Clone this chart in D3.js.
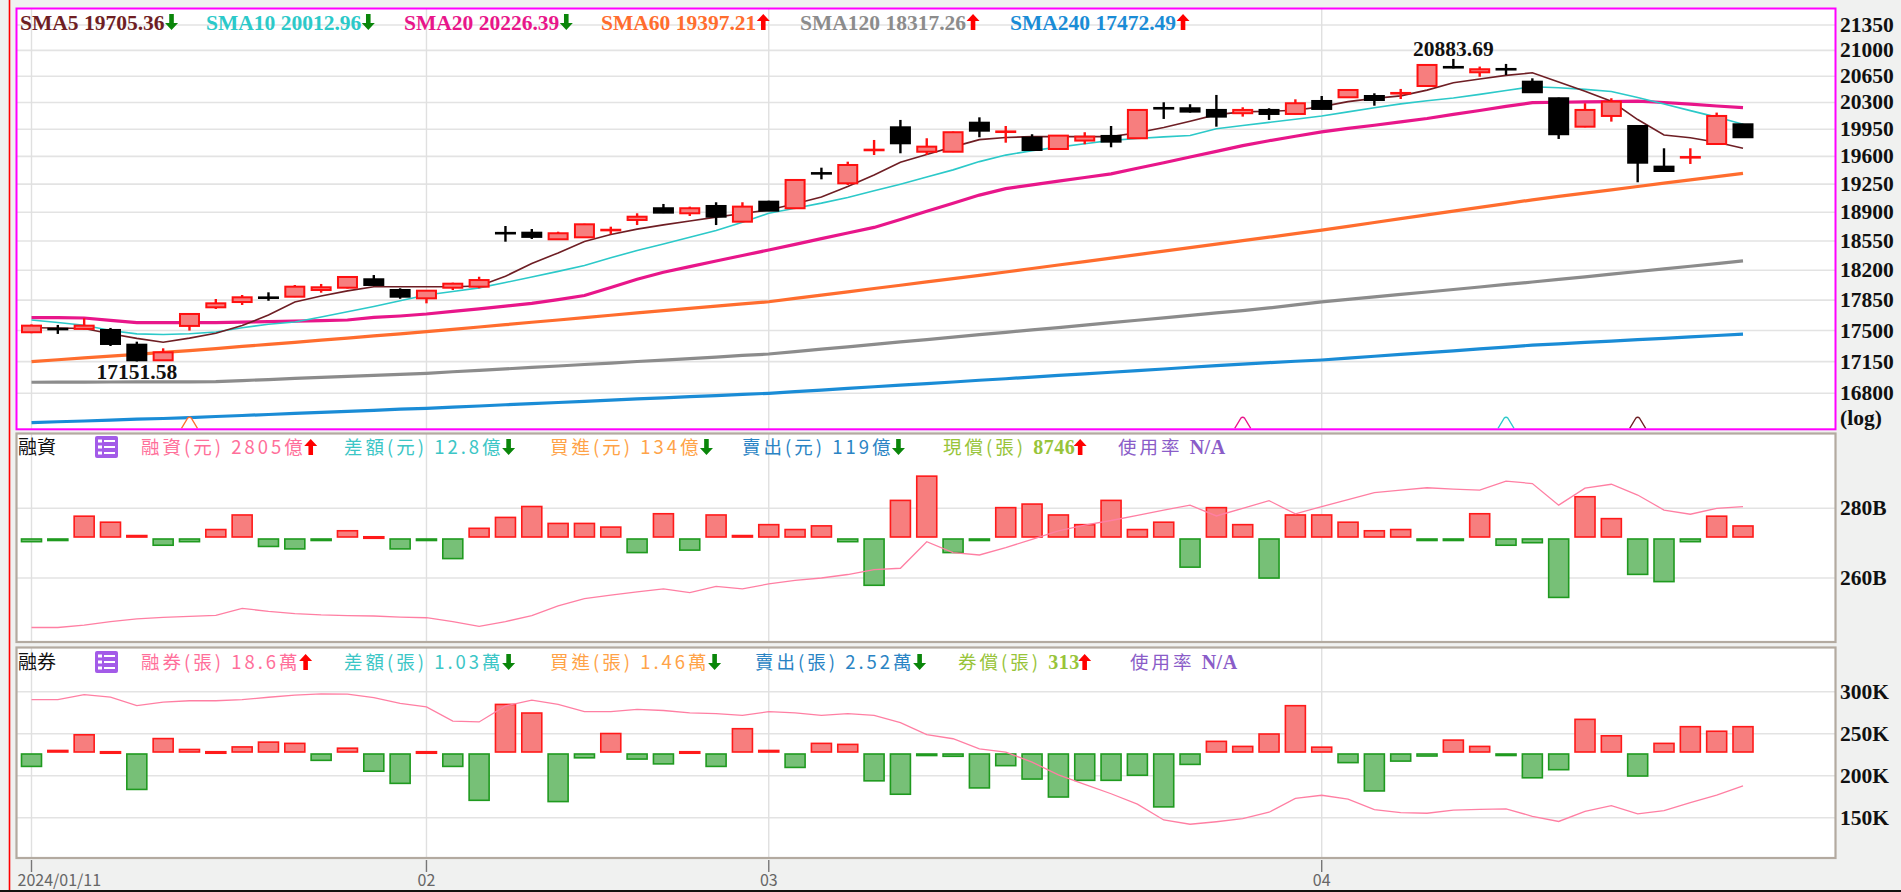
<!DOCTYPE html>
<html><head><meta charset="utf-8">
<script src="https://cdn.jsdelivr.net/npm/d3@7/dist/d3.min.js"></script>
<style>
html,body{margin:0;padding:0;background:#f0f1f0;overflow:hidden;}
svg{display:block;}
</style></head>
<body>
<svg id="chart" width="1901" height="892"></svg>
<script>
// ---------------- DATA ----------------
const dates = ["01/11","01/12","01/15","01/16","01/17","01/18","01/19","01/22","01/23","01/24","01/25","01/26","01/29","01/30","01/31",
"02/01","02/02","02/05","02/15","02/16","02/19","02/20","02/21","02/22","02/23","02/26","02/27","02/29",
"03/01","03/04","03/05","03/06","03/07","03/08","03/11","03/12","03/13","03/14","03/15","03/18","03/19","03/20","03/21","03/22","03/25","03/26","03/27","03/28","03/29",
"04/01","04/02","04/03","04/08","04/09","04/10","04/11","04/12","04/15","04/16","04/17","04/18","04/19","04/22","04/23","04/24","04/25"];

const open  = [17481,17525,17519,17507,17340,17165,17553,17767,17828,17885,17890,17968,17995,18094,17968,17871,17995,18007,18650,18651,18571,18595,18676,18806,18950,18888,18978,18785,19031,18950,19390,19260,19675,19975,19660,19660,20035,19910,19841,19695,19803,19863,19833,20230,20224,20202,20159,20202,20149,20320,20369,20386,20415,20519,20780,20703,20750,20577,20356,19983,20123,19992,19470,19580,19759,20014];
const high  = [17570,17564,17641,17530,17374,17299,17700,17863,17910,17941,18027,18039,18130,18144,17988,17965,18054,18124,18732,18696,18663,18760,18724,18888,19003,18970,19024,19024,19043,19310,19457,19533,19811,20071,19833,19920,20105,19992,19885,19875,19911,19992,20210,20303,20277,20400,20237,20224,20342,20386,20475,20422,20480,20810,20883.69,20780,20816,20622,20365,20290,20356,20000,19704,19704,20167,20020];
const low   = [17470,17462,17510,17325,17151.58,17160,17500,17748,17794,17843,17885,17937,17985,18020,17866,17813,17968,17988,18542,18575,18565,18590,18632,18744,18890,18855,18744,18780,18915,18940,19310,19239,19618,19640,19618,19655,19846,19776,19675,19690,19756,19717,19825,20084,20167,19983,20114,20071,20140,20210,20360,20258,20346,20510,20755,20643,20666,20430,19824,19975,20049,19273,19405,19504,19755,19840];
const close = [17556,17510,17556,17348,17165,17254,17690,17813,17883,17872,18007,18000,18121,18027,17890,17960,18042,18085,18640,18600,18644,18753,18690,18846,18896,18950,18846,18970,18920,19302,19380,19491,19690,19768,19725,19911,19931,19925,19682,19867,19854,19789,20202,20218,20180,20114,20202,20149,20290,20215,20466,20333,20430,20802,20762,20744,20738,20436,19885,20202,20311,19520,19415,19597,20123,19846];

const sma5   = [17533,17530,17524,17463,17411,17368,17414,17470,17557,17678,17829,17898,17958,18007,18007,18007,18007,18015,18130,18281,18407,18545,18628,18694,18746,18793,18841,18886,18929,19005,19089,19219,19365,19526,19624,19722,19815,19843,19854,19854,19854,19854,19904,19973,20054,20140,20176,20185,20198,20246,20311,20354,20388,20464,20562,20613,20661,20696,20573,20450,20316,20076,19876,19840,19781,19704];
const sma10  = [17621,17592,17561,17500,17462,17455,17464,17484,17533,17572,17598,17656,17716,17776,17842,17910,17951,17993,18056,18121,18187,18258,18349,18436,18514,18595,18678,18777,18888,18951,19013,19083,19166,19248,19338,19429,19534,19617,19674,19719,19762,19806,19829,19851,19869,19957,19999,20039,20080,20123,20177,20231,20282,20323,20360,20408,20460,20510,20496,20474,20446,20366,20281,20193,20108,20014];
const sma20  = [17648,17648,17644,17616,17590,17590,17590,17590,17596,17603,17608,17614,17621,17650,17667,17690,17720,17748,17780,17813,17855,17904,17997,18094,18177,18244,18310,18376,18442,18510,18579,18647,18715,18812,18912,19011,19113,19194,19240,19287,19333,19379,19449,19520,19593,19664,19738,19801,19859,19916,19960,20002,20046,20090,20143,20195,20248,20298,20303,20307,20311,20317,20300,20278,20254,20232];
const sma60  = [17149,17171,17191,17212,17232,17253,17274,17296,17320,17344,17367,17391,17415,17439,17463,17488,17514,17541,17567,17595,17621,17649,17675,17703,17729,17755,17781,17806,17831,17870,17908,17947,17986,18024,18063,18102,18140,18180,18221,18263,18304,18345,18387,18428,18470,18512,18554,18597,18640,18682,18728,18775,18822,18868,18915,18961,19008,19054,19096,19137,19178,19220,19262,19303,19344,19386];
const sma120 = [16921,16922,16923,16924,16925,16926,16926,16928,16940,16951,16963,16974,16986,16997,17009,17020,17037,17052,17069,17085,17101,17118,17134,17151,17167,17184,17201,17219,17235,17262,17289,17316,17344,17371,17398,17425,17453,17480,17507,17534,17563,17590,17618,17646,17673,17702,17729,17760,17795,17829,17858,17887,17917,17945,17974,18003,18033,18062,18092,18123,18154,18186,18217,18248,18280,18311];
const sma240 = [16482,16492,16500,16509,16519,16527,16537,16548,16559,16570,16581,16592,16604,16615,16627,16637,16650,16662,16675,16688,16700,16713,16726,16739,16751,16763,16775,16788,16800,16818,16835,16854,16872,16889,16907,16924,16943,16960,16978,16997,17014,17032,17050,17068,17087,17105,17123,17139,17154,17168,17188,17210,17230,17251,17271,17292,17313,17335,17350,17365,17381,17397,17412,17428,17444,17459];

// 融資: daily change (億) and balance (B = 十億)
const marginDiff = [-3.9,-2.6,23.2,16.8,2.6,-7.7,-3.9,9,24.5,-9,-11.6,-1.3,7.7,1.3,-11.6,-2.6,-21.9,10.3,21.9,33.5,15.5,15.5,11.6,-15.5,25.8,-12.9,24.5,2.6,14.2,9,12.9,-3.9,-50.3,40,65.8,-15.5,-2.6,32.3,36.1,24.5,14.2,40,9,16.8,-31,32.3,14.2,-42.6,24.5,24.5,16.8,7.7,9,-1.3,-1.3,25.8,-7.7,-5,-63.2,43.9,20.6,-38.7,-46.4,-3.9,23.2,12.8];
const marginBal  = [245.8,245.8,246.5,247.5,248.3,248.7,249,249.3,251.3,250.4,249.8,249.4,249.2,249.1,248.8,248.6,247.5,246.1,247.5,249.2,252,254.1,255.1,256,256.9,255.8,257.6,256.9,258.3,259.3,260,261,262.4,262.8,270.4,267.3,266.6,268.7,271.1,273.5,275.2,276.5,278,279.5,280.9,277.8,280,282.2,278.4,280.5,282.5,284.5,285.2,285.9,285.5,285.2,287.8,287.1,280.9,285.8,286.9,283.8,279.5,278.3,280,280.5];
// 融券: daily change (K 張) and balance (K 張)
const shortDiff = [-5.3,1.0,7.2,0.5,-14.4,5.7,1.4,0.5,2.4,4.3,3.8,-2.9,1.9,-7.2,-12,0.5,-5.3,-18.7,19.2,15.8,-19.2,-1.9,7.7,-2.4,-4.3,0.5,-5.3,9.6,1.0,-5.7,3.8,3.4,-11,-16.3,-1,
  -1.3,-13.8,-5,-10.3,-17.4,-10.8,-10.8,-8.8,-21.3,-4.5,4.6,2.6,7.5,18.7,2.3,-3.8,-15,-3.2,-1.2,5.1,2.6,-0.9,-9.8,-6.6,13.3,6.8,-9.1,3.8,10.4,8.6,10.4];
const shortBal = [290.6,290.6,296.4,293.6,283.5,287.7,289.2,289.2,290.6,293.4,296,297.5,297,293,286,282,265,264,283,290,284.9,276.2,276.2,279,277.6,274.8,274,271.9,276.2,274.8,271.9,274,271.9,263.2,248.8,
  244,232,228,216.2,201.1,189.6,178.5,166.1,147.3,142.2,145.2,148.9,156.5,173,176.7,172,159.5,156,155.3,159,160,160.5,151.7,145.5,157.6,164.3,154.5,158.5,167.8,177,188];

const priceTicks  = [21350,21000,20650,20300,19950,19600,19250,18900,18550,18200,17850,17500,17150,16800];
const marginTicks = [280,260];
const shortTicks  = [300,250,200,150];
const monthTicks  = ["01/11","02/01","03/01","04/01"];
const monthLabels = ["2024/01/11","02","03","04"];

const smaNames  = ["SMA5","SMA10","SMA20","SMA60","SMA120","SMA240"];
const smaLast   = ["19705.36","20012.96","20226.39","19397.21","18317.26","17472.49"];
const smaUp     = [false,false,false,true,true,true];
const lowLabel  = {idx:4, text:"17151.58"};
const highLabel = {idx:54, text:"20883.69"};
const crossMarks = [{idx:6, s:3},{idx:46, s:2},{idx:56, s:1},{idx:61, s:0}];

const marginHead = [
  {t:"融資(元) 2805億", b:"", up:true},
  {t:"差額(元) 12.8億", b:"", up:false},
  {t:"買進(元) 134億", b:"", up:false},
  {t:"賣出(元) 119億", b:"", up:false},
  {t:"現償(張) ", b:"8746", up:true},
  {t:"使用率 ", b:"N/A", up:null}
];
const shortHead = [
  {t:"融券(張) 18.6萬", b:"", up:true},
  {t:"差額(張) 1.03萬", b:"", up:false},
  {t:"買進(張) 1.46萬", b:"", up:false},
  {t:"賣出(張) 2.52萬", b:"", up:false},
  {t:"券償(張) ", b:"313", up:true},
  {t:"使用率 ", b:"N/A", up:null}
];

// ---------------- STYLE / LAYOUT ----------------
const SERIF = "'Liberation Serif','Times New Roman',serif";
const CJK = "'Noto Sans CJK TC','Noto Sans CJK SC',sans-serif";
const smaColors = ["#6e1e24","#2cc9c9","#e8168a","#ff6d2e","#8c8c8c","#1a8cd6"];
const smaWidths = [1.6,1.6,3.2,3.2,3.2,3.2];
const headColors = ["#ff6f9a","#3cc6c6","#ffa348","#2a84c4","#98c43a","#8a5cc8"];
const headX1 = [141,344,550,742,943,1118];
const headX2 = [141,344,550,755,958,1130];
const smaX = [20,206,404,601,800,1010];

const L = 16.5, R = 1835.5;
const MAIN = {t:8.5, b:429.3};
const P2 = {t:433.5, b:642};
const P3 = {t:647.5, b:858};

const svg = d3.select("#chart");
svg.append("rect").attr("width",1901).attr("height",892).attr("fill","#f0f1f0");

const x = d3.scalePoint().domain(dates).range([31.5, 1743]);
const yP = d3.scaleLog().domain([16800, 21350]).range([393.3, 25]);
const yM = d3.scaleLinear().domain([260, 280]).range([578, 508.3]);
const yMB = d3.scaleLinear().domain([0, 10]).range([538, 528.6]);
const yS = d3.scaleLinear().domain([150, 300]).range([817.7, 691.7]);
const ySB = d3.scaleLinear().domain([0, 10]).range([753, 727.7]);

// panel backgrounds
[[MAIN.t,MAIN.b],[P2.t,P2.b],[P3.t,P3.b]].forEach(([t,b])=>{
  svg.append("rect").attr("x",L).attr("y",t).attr("width",R-L).attr("height",b-t).attr("fill","#fff");
});

// horizontal grid
const grid = svg.append("g").attr("stroke","#e3e3e3").attr("stroke-width",1.6);
priceTicks.forEach(v=>grid.append("line").attr("x1",L).attr("x2",R).attr("y1",yP(v)).attr("y2",yP(v)));
marginTicks.forEach(v=>grid.append("line").attr("x1",L).attr("x2",R).attr("y1",yM(v)).attr("y2",yM(v)));
shortTicks.forEach(v=>grid.append("line").attr("x1",L).attr("x2",R).attr("y1",yS(v)).attr("y2",yS(v)));
// vertical month grid
monthTicks.forEach(d=>{
  [[MAIN.t,MAIN.b],[P2.t,P2.b],[P3.t,P3.b]].forEach(([t,b])=>{
    grid.append("line").attr("x1",x(d)).attr("x2",x(d)).attr("y1",t).attr("y2",b).attr("stroke","#e0e0e0").attr("stroke-width",1.4);
  });
  svg.append("line").attr("x1",x(d)).attr("x2",x(d)).attr("y1",P3.b+2).attr("y2",P3.b+14).attr("stroke","#777").attr("stroke-width",1.4);
});

// ---------- MAIN PANEL ----------
const gm = svg.append("g");
const idx = d3.range(dates.length);
const line = (arr, ys)=>d3.line().x(i=>x(dates[i])).y(i=>ys(arr[i]))(idx);
[sma240,sma120,sma60,sma20].forEach((arr,k)=>{
  const s = 5-k;
  gm.append("path").attr("d",line(arr,yP)).attr("fill","none").attr("stroke",smaColors[s]).attr("stroke-width",smaWidths[s]);
});
[sma10,sma5].forEach((arr,k)=>{
  const s = 1-k;
  gm.append("path").attr("d",line(arr,yP)).attr("fill","none").attr("stroke",smaColors[s]).attr("stroke-width",smaWidths[s]);
});

// candles
const cw = 21;
idx.forEach(i=>{
  const up = close[i] >= open[i];
  const col = up ? "#ff1010" : "#000";
  const cx = x(dates[i]);
  gm.append("line").attr("x1",cx).attr("x2",cx).attr("y1",yP(high[i])).attr("y2",yP(low[i])).attr("stroke",col).attr("stroke-width",2.4);
  const y1 = yP(Math.max(open[i],close[i])), y2 = yP(Math.min(open[i],close[i]));
  let h = y2 - y1;
  if (h < 2.5) {
    gm.append("rect").attr("x",cx-cw/2).attr("y",(y1+y2)/2-1.3).attr("width",cw).attr("height",2.6).attr("fill",col);
  } else {
    gm.append("rect").attr("x",cx-cw/2+1).attr("y",y1).attr("width",cw-2).attr("height",h)
      .attr("fill", up ? "#f77e7e" : "#000").attr("stroke",col).attr("stroke-width",2);
  }
});

// cross markers
crossMarks.forEach(m=>{
  const cx = x(dates[m.idx]);
  gm.append("path").attr("d",`M${cx-8},${MAIN.b-1} L${cx-2},${MAIN.b-11} Q${cx},${MAIN.b-13} ${cx+2},${MAIN.b-11} L${cx+8},${MAIN.b-1}`)
    .attr("fill","#fff").attr("stroke",smaColors[m.s]).attr("stroke-width",1.3);
});

// annotations
gm.append("text").attr("x",x(dates[lowLabel.idx])).attr("y",379).attr("text-anchor","middle")
  .attr("font-family",SERIF).attr("font-weight","bold").attr("font-size",21.5).attr("fill","#111").text(lowLabel.text);
gm.append("text").attr("x",x(dates[highLabel.idx])).attr("y",56).attr("text-anchor","middle")
  .attr("font-family",SERIF).attr("font-weight","bold").attr("font-size",21.5).attr("fill","#111").text(highLabel.text);

// arrows
function arrow(g, cx, cy, up, s){
  s = s || 1;
  const col = up ? "#ff0000" : "#0a860a";
  const a = 6.5*s, b = 2.3*s, hh = 8*s, tl = 8*s;
  const p = up
    ? `M${cx},${cy-hh} L${cx+a},${cy-1} L${cx+b},${cy-1} L${cx+b},${cy+tl} L${cx-b},${cy+tl} L${cx-b},${cy-1} L${cx-a},${cy-1} Z`
    : `M${cx},${cy+hh} L${cx+a},${cy+1} L${cx+b},${cy+1} L${cx+b},${cy-tl} L${cx-b},${cy-tl} L${cx-b},${cy+1} L${cx-a},${cy+1} Z`;
  g.append("path").attr("d",p).attr("fill",col);
}

// SMA header
smaNames.forEach((n,k)=>{
  const t = svg.append("text").attr("x",smaX[k]).attr("y",29.5).attr("font-family",SERIF).attr("font-weight","bold")
    .attr("font-size",21.5).attr("fill",smaColors[k]).text(n+" "+smaLast[k]);
  const w = t.node().getComputedTextLength();
  arrow(svg, smaX[k]+w+7, 22, smaUp[k], 1);
});

// price axis labels
priceTicks.forEach(v=>{
  svg.append("text").attr("x",1840).attr("y",yP(v)+7).attr("font-family",SERIF).attr("font-weight","bold")
    .attr("font-size",21.5).attr("fill","#111").text(v);
});
svg.append("text").attr("x",1840).attr("y",425).attr("font-family",SERIF).attr("font-weight","bold")
  .attr("font-size",21.5).attr("fill","#111").text("(log)");

// ---------- bars helper ----------
function bars(g, arr, yb){
  idx.forEach(i=>{
    const v = arr[i], cx = x(dates[i]);
    const up = v >= 0;
    const y0 = yb(0), y1 = yb(v);
    const top = up ? y1 : y0+1, bot = up ? y0-1 : y1;
    const h = Math.max(bot-top, 1.5);
    g.append("rect").attr("x",cx-10).attr("y",top).attr("width",20).attr("height",h)
      .attr("fill", up ? "#f77e7e" : "#77c077").attr("stroke", up ? "#ff1a1a" : "#1f9a1f").attr("stroke-width",1.6);
  });
}

// ---------- PANEL 2 ----------
const g2 = svg.append("g");
bars(g2, marginDiff, yMB);
g2.append("path").attr("d",line(marginBal,yM)).attr("fill","none").attr("stroke","#ff7fa3").attr("stroke-width",1.3);
marginTicks.forEach(v=>svg.append("text").attr("x",1840).attr("y",yM(v)+7).attr("font-family",SERIF).attr("font-weight","bold")
  .attr("font-size",21.5).attr("fill","#111").text(v+"B"));

// ---------- PANEL 3 ----------
const g3 = svg.append("g");
bars(g3, shortDiff, ySB);
g3.append("path").attr("d",line(shortBal,yS)).attr("fill","none").attr("stroke","#ff7fa3").attr("stroke-width",1.3);
shortTicks.forEach(v=>svg.append("text").attr("x",1840).attr("y",yS(v)+7).attr("font-family",SERIF).attr("font-weight","bold")
  .attr("font-size",21.5).attr("fill","#111").text(v+"K"));

// ---------- panel headers ----------
function icon(g, x0, y0){
  g.append("rect").attr("x",x0).attr("y",y0).attr("width",23).attr("height",22).attr("rx",2).attr("fill","#a35be8");
  [5,11,17].forEach(dy=>{
    g.append("rect").attr("x",x0+3).attr("y",y0+dy-1.5).attr("width",4).attr("height",3).attr("fill","#fff");
    g.append("rect").attr("x",x0+9).attr("y",y0+dy-1).attr("width",11).attr("height",2).attr("fill","#fff");
  });
}
function header(title, items, xs, cy){
  svg.append("text").attr("x",18).attr("y",cy+7).attr("font-family",CJK).attr("font-size",19).attr("fill","#111").text(title);
  icon(svg, 95, cy-11);
  items.forEach((it,k)=>{
    const t = svg.append("text").attr("x",xs[k]).attr("y",cy+7).attr("font-family",CJK).attr("font-size",18.5)
      .attr("letter-spacing",3).attr("fill",headColors[k]);
    t.append("tspan").text(it.t);
    if (it.b) t.append("tspan").attr("font-family",SERIF).attr("font-weight","bold").attr("font-size",20).attr("letter-spacing",0.5).text(it.b);
    const w = t.node().getComputedTextLength();
    if (it.up !== null) arrow(svg, xs[k]+w+5, cy, it.up, 1);
  });
}
header("融資", marginHead, headX1, 447);
header("融券", shortHead, headX2, 662);

// ---------- borders ----------
svg.append("rect").attr("x",L).attr("y",MAIN.t).attr("width",R-L).attr("height",MAIN.b-MAIN.t).attr("fill","none").attr("stroke","#ff00ff").attr("stroke-width",2);
[[P2.t,P2.b],[P3.t,P3.b]].forEach(([t,b])=>{
  svg.append("rect").attr("x",L).attr("y",t).attr("width",R-L).attr("height",b-t).attr("fill","none").attr("stroke","#b3aaa0").attr("stroke-width",2.2);
});
svg.append("line").attr("x1",9.5).attr("x2",9.5).attr("y1",0).attr("y2",892).attr("stroke","#ff0000").attr("stroke-width",1.6);
svg.append("line").attr("x1",0).attr("x2",1901).attr("y1",891).attr("y2",891).attr("stroke","#111").attr("stroke-width",2);

// ---------- x axis labels ----------
monthTicks.forEach((d,k)=>{
  const t = svg.append("text").attr("y",886).attr("font-family",CJK).attr("font-size",16).attr("fill","#666").text(monthLabels[k]);
  if (k===0) t.attr("x",L+1); else t.attr("x",x(d)).attr("text-anchor","middle");
});
</script>
</body></html>
